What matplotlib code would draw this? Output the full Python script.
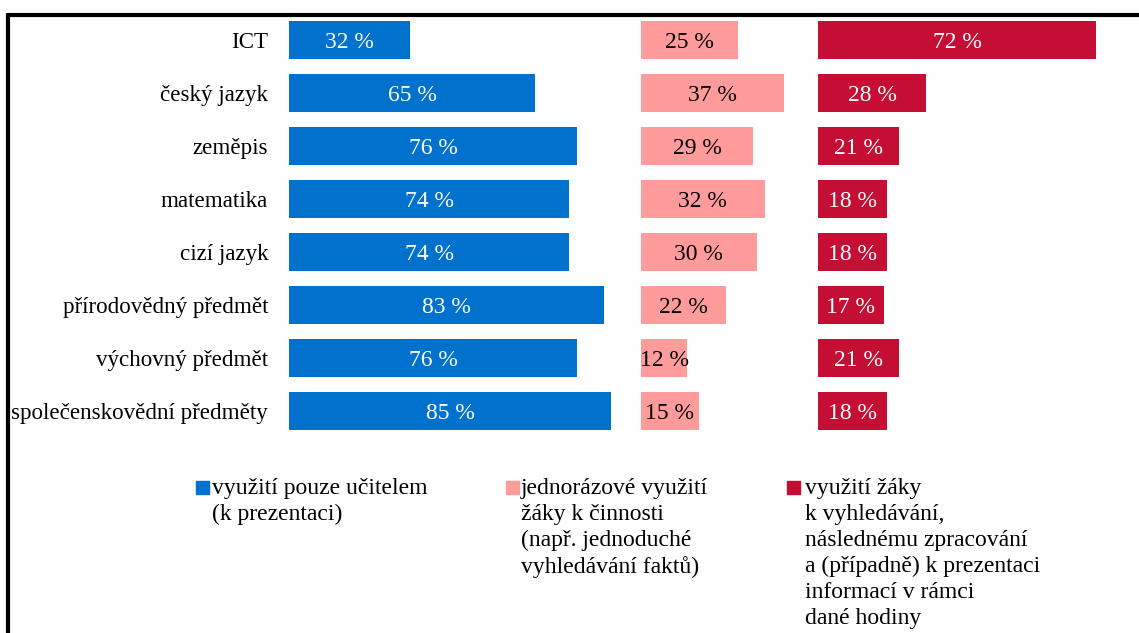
import matplotlib
matplotlib.use("Agg")
import matplotlib.pyplot as plt
from matplotlib.patches import Rectangle

categories = ["ICT", "český jazyk", "zeměpis", "matematika", "cizí jazyk",
              "přírodovědný předmět", "výchovný předmět", "společenskovědní předměty"]
teacher_only = [32, 65, 76, 74, 74, 83, 76, 85]
one_time = [25, 37, 29, 32, 30, 22, 12, 15]
students = [72, 28, 21, 18, 18, 17, 21, 18]
legend_labels = ["využití pouze učitelem\n(k prezentaci)",
                 "jednorázové využití\nžáky k činnosti\n(např. jednoduché\nvyhledávání faktů)",
                 "využití žáky\nk vyhledávání,\nnáslednému zpracování\na (případně) k prezentaci\ninformací v rámci\ndané hodiny"]

colors = ["#0072CE", "#FF9B9B", "#C50E33"]
text_colors = ["white", "black", "white"]

W, H = 1139, 633
plt.rcParams['font.family'] = ['Liberation Serif', 'DejaVu Serif']
fig = plt.figure(figsize=(W / 100, H / 100), dpi=100)

FS = 17
row_h = 53
top_px = 40 - row_h / 2
n = len(categories)
height_px = n * row_h

def make_ax(left_px, scale, xmax):
    ax = fig.add_axes([left_px / W, (H - top_px - height_px) / H,
                       scale * xmax / W, height_px / H])
    ax.set_xlim(0, xmax)
    ax.set_ylim(n - 0.5, -0.5)
    ax.patch.set_alpha(0)
    for s in ax.spines.values():
        s.set_visible(False)
    ax.set_xticks([])
    ax.tick_params(length=0)
    return ax

series = [teacher_only, one_time, students]
panels = [(289, 3.79, 100), (641, 3.86, 60), (818, 3.86, 80)]
y = list(range(n))
for i, (vals, (lp, sc, xm)) in enumerate(zip(series, panels)):
    ax = make_ax(lp, sc, xm)
    ax.barh(y, vals, height=0.7, color=colors[i])
    for yi, v in zip(y, vals):
        ax.text(v / 2, yi, f"{v} %", ha="center", va="center_baseline",
                color=text_colors[i], fontsize=FS)
    if i == 0:
        ax.set_yticks(y)
        ax.set_yticklabels(categories, fontsize=16.6, va="center_baseline")
        ax.tick_params(axis="y", pad=15)
    else:
        ax.set_yticks([])

# legend
leg_pos = [(196, 212), (506, 521), (787, 805)]
for (sq_x, tx), lab, c in zip(leg_pos, legend_labels, colors):
    fig.patches.append(Rectangle((sq_x / W, (H - 494) / H), 13 / W, 13 / H,
                                 transform=fig.transFigure, color=c))
    fig.text(tx / W, (H - 478) / H, lab, ha="left", va="top",
             fontsize=FS, linespacing=1.31)

# frame
fig.patches.append(Rectangle((8 / W, -0.1), 1.2, (H - 15) / H + 0.1,
                             transform=fig.transFigure, fill=False,
                             edgecolor="black", linewidth=3))

fig.savefig("out.png", dpi=100)
